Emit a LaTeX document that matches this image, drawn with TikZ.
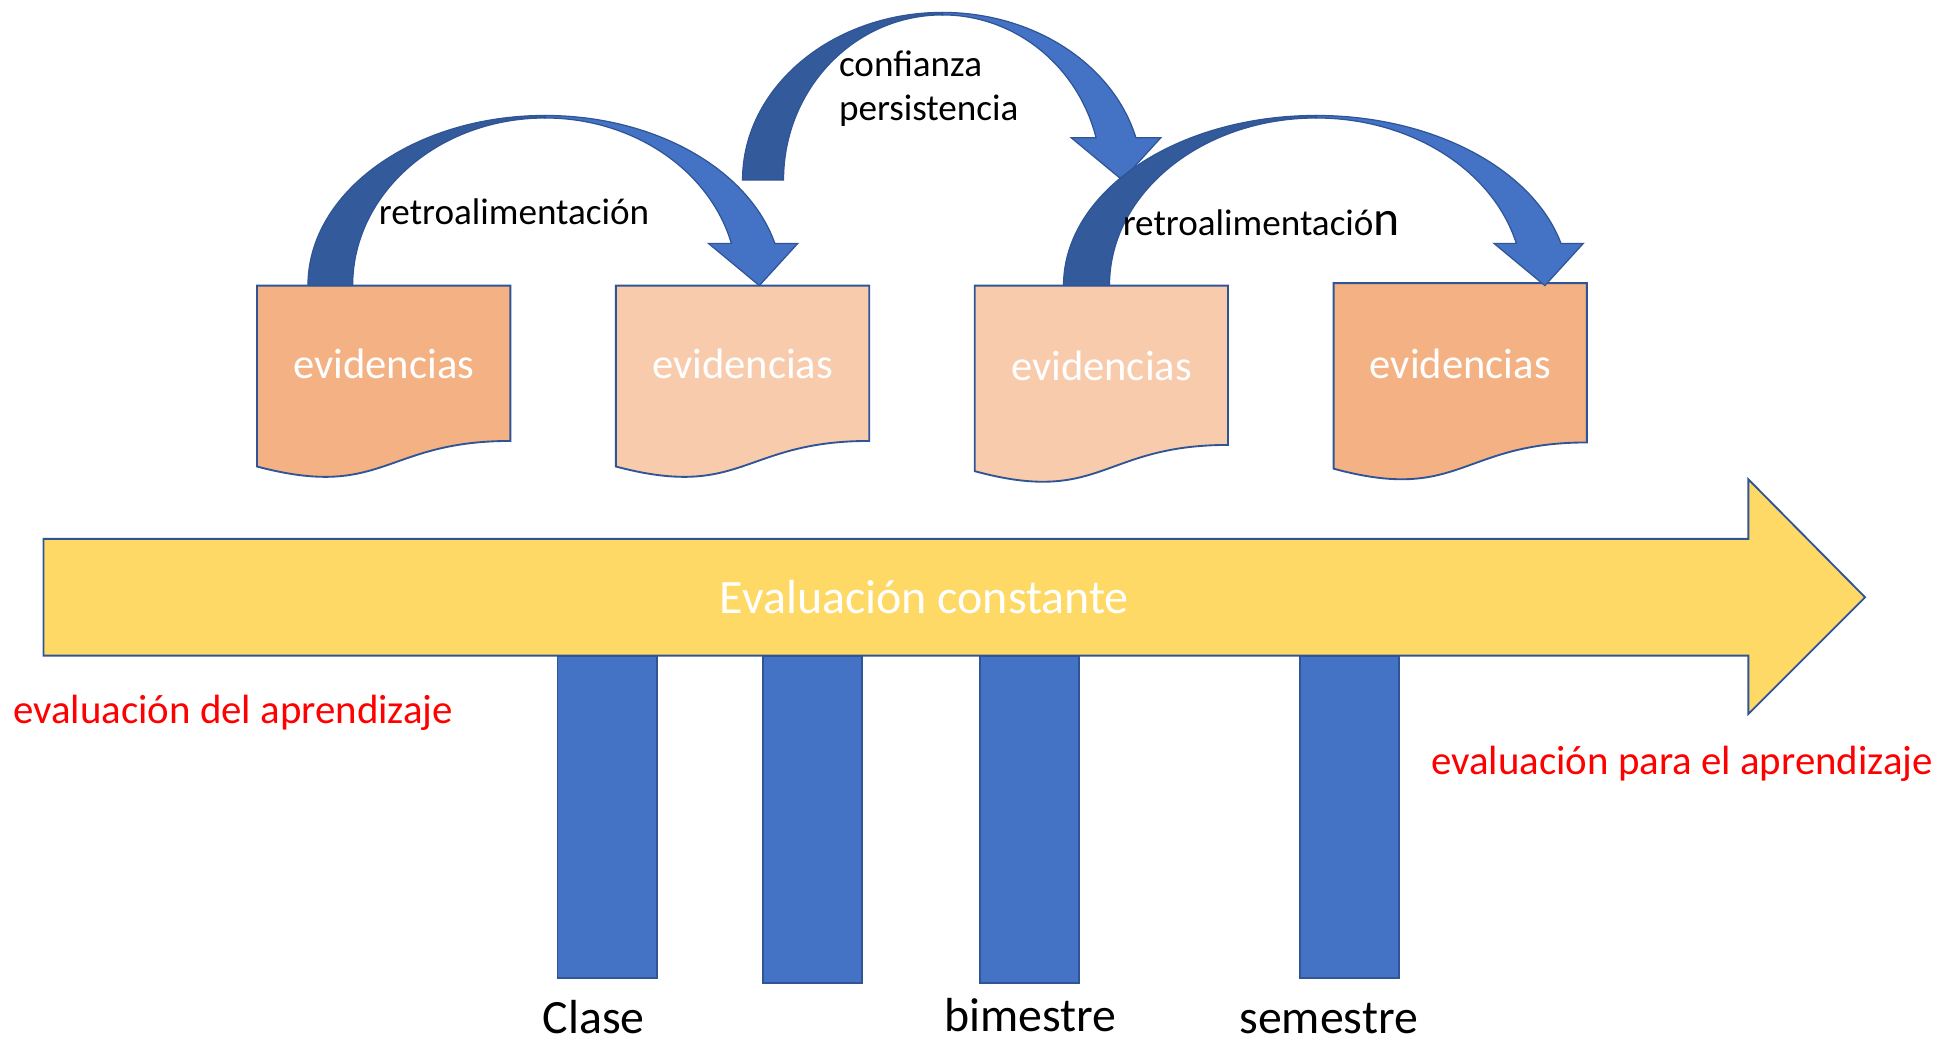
\documentclass[tikz,border=0pt]{standalone}
\usepackage{fontspec}
\setmainfont{Carlito}
\usetikzlibrary{positioning}
\definecolor{docdark}{HTML}{F4B183}
\definecolor{doclight}{HTML}{F8CBAD}
\definecolor{edgeblue}{HTML}{2F5597}
\definecolor{barblue}{HTML}{4472C4}
\definecolor{shadeblue}{HTML}{335A9B}
\definecolor{arrowgold}{HTML}{FFD966}
\tikzstyle{docline} = [draw=edgeblue, line width=1.5bp]
\tikzstyle{bar} = [draw=edgeblue, fill=barblue, line width=1.5bp, rectangle, minimum width=80bp, inner sep=0pt]
\tikzstyle{bandfront} = [draw=edgeblue, fill=barblue, line width=1bp]
\tikzstyle{bandback} = [draw=edgeblue, fill=shadeblue, line width=1bp]
\tikzset{
    evtext/.style={text=white, inner sep=0pt, font=\fontsize{34.3bp}{40bp}\selectfont},
    note/.style={inner sep=0pt, anchor=base west, font=\fontsize{29.9bp}{35bp}\selectfont},
    period/.style={inner sep=0pt, anchor=base west, font=\fontsize{38.5bp}{44bp}\selectfont},
    aim/.style={inner sep=0pt, anchor=base west, text=red, font=\fontsize{32.9bp}{38bp}\selectfont}
}
% document shape with wavy bottom: name, x, y (top), height, fill
\newcommand{\evdoc}[5]{
    \draw[docline, fill=#5] (#2,-#3) -- ++(204,0) -- ++(0,{-0.802*#4})
        .. controls ({#2+102},{-#3-0.802*#4}) and ({#2+102},{-#3-1.1075*#4}) .. (#2,{-#3-0.934*#4}) -- cycle;
    \node[evtext, anchor=base] (#1) at ({#2+102},{-#3-0.48*#4}) {evidencias};
}
% curved down arrow: centre x, base y, outer rx, inner rx, ry
\newcommand{\bentarrow}[5]{
    \pgfmathsetmacro\baAngO{asin(34/#5)}
    \pgfmathsetmacro\baAngI{asin(34/(#5-2))}
    \pgfmathsetmacro\baRi{#5-2}
    \pgfmathsetmacro\baXo{#1+#3*cos(\baAngO)}
    \pgfmathsetmacro\baXi{#1+#4*cos(\baAngI)}
    \pgfmathsetmacro\baXm{(\baXo+\baXi)/2}
    \pgfmathsetmacro\baYh{-#2+34}
    \draw[bandfront] (#1,{-#2+#5}) arc[start angle=90, end angle=\baAngO, x radius=#3bp, y radius=#5bp]
        -- ({\baXm+36},\baYh) -- ({\baXm+5},{-#2}) -- ({\baXm-36},\baYh) -- (\baXi,\baYh)
        arc[start angle=\baAngI, end angle=90, x radius=#4bp, y radius=\baRi bp] -- cycle;
    \draw[bandback] ({#1-#3},{-#2}) arc[start angle=180, end angle=90, x radius=#3bp, y radius=#5bp]
        -- (#1,{-#2+#5-2}) arc[start angle=90, end angle=180, x radius=#4bp, y radius=\baRi bp] -- cycle;
}

\begin{document}
\begin{tikzpicture}[x=1bp, y=1bp]
    \useasboundingbox (0,0) rectangle (1568,-847);

    % time bars
    \node[bar, minimum height=259bp, anchor=north] (b1) at (489,-528) {};
    \node[bar, minimum height=263bp, anchor=north] (b2) at (654.5,-528) {};
    \node[bar, minimum height=263bp, anchor=north] (b3) at (829,-528) {};
    \node[bar, minimum height=259bp, anchor=north] (b4) at (1087,-528) {};

    % main arrow
    \draw[docline, fill=arrowgold] (35,-434) -- (1408,-434) -- (1408,-386) -- (1502,-481)
        -- (1408,-575) -- (1408,-528) -- (35,-528) -- cycle;
    \node[evtext, anchor=base, font=\fontsize{38.6bp}{44bp}\selectfont] (flow) at (744.5,-494) {Evaluación constante};

    % evidence documents
    \evdoc{ev1}{207}{230}{156}{docdark}
    \evdoc{ev2}{496}{230}{156}{doclight}
    \evdoc{ev3}{785}{230}{160}{doclight}
    \evdoc{ev4}{1074}{228}{160}{docdark}

    % curved arrows
    \bentarrow{439}{230}{191}{155}{137}
    \bentarrow{759}{145}{161}{128}{135}
    \bentarrow{1060}{230}{203.5}{166.5}{137}

    \node[note] (fb1) at (305,-180.5) {retroalimentación};
    \node[note] (conf) at (675.5,-61.5) {confianza};
    \node[note] (pers) at ([yshift=-35.5bp]conf.base west) {persistencia};
    \node[note] (fb2) at (904,-190) {retroalimentació{\fontsize{40bp}{46bp}\selectfont n}};

    \node[aim] (del) at (10.5,-583) {evaluación del aprendizaje};
    \node[aim] (para) at (1152.5,-624) {evaluación para el aprendizaje};

    \node[period] (clase) at (437,-832.5) {Clase};
    \node[period] (bim) at (760.5,-830.6) {bimestre};
    \node[period] (sem) at (998,-832.5) {semestre};
\end{tikzpicture}
\end{document}
